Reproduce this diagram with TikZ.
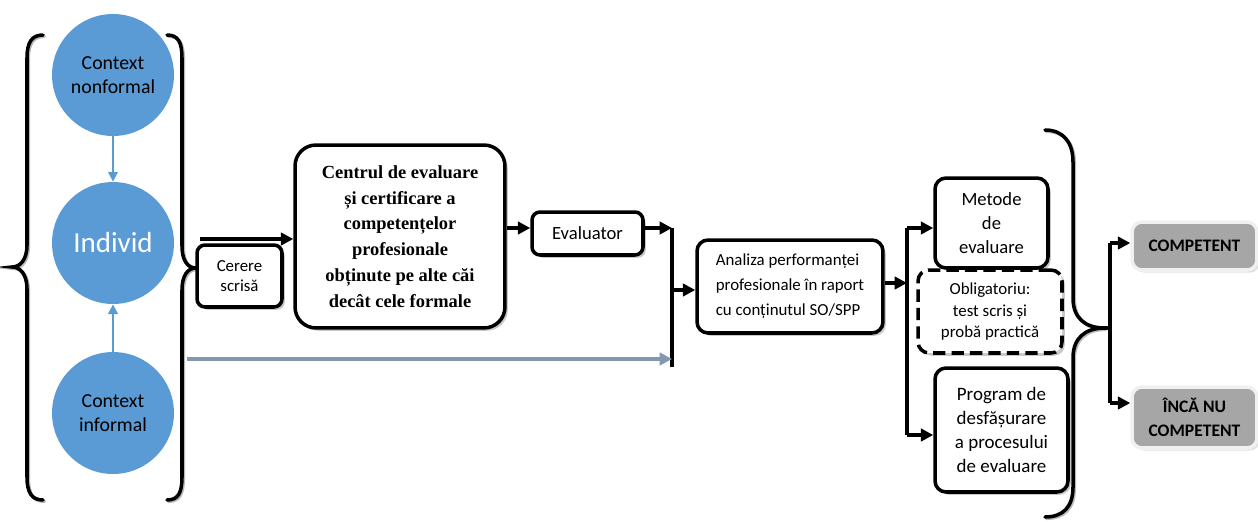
\documentclass[tikz,border=0pt]{standalone}
\usepackage{fontspec}
\setmainfont{Carlito}
\newfontfamily\tnr{Liberation Serif}
\usetikzlibrary{arrows.meta,shadows,calc}
\definecolor{cblue}{HTML}{5B9BD5}
\definecolor{gblue}{HTML}{8497B0}
\definecolor{cgray}{HTML}{A6A6A6}
\begin{document}
\begin{tikzpicture}[x=0.02cm,y=-0.02cm,
 circ/.style={circle,fill=cblue,minimum size=2.44cm,inner sep=0pt,align=center,font=\fontsize{11.3}{13.6}\selectfont},
 box/.style={draw=black,line width=2pt,rounded corners=0.22cm,fill=white,align=center,inner sep=0pt,
   drop shadow={shadow xshift=1.6pt,shadow yshift=-1.6pt,fill=gray!60,opacity=0.7}},
 dbox/.style={box,dash pattern=on 7pt off 3.5pt},
 gbox/.style={draw=gray!12,line width=2pt,rounded corners=0.2cm,fill=cgray,align=center,inner sep=0pt,
   font=\bfseries\fontsize{10}{13.5}\selectfont,
   drop shadow={shadow xshift=1.5pt,shadow yshift=-1.5pt,fill=gray!40,opacity=0.6}},
 arr/.style={line width=2pt,-{Triangle[length=7pt,width=7pt]}},
 bus/.style={line width=2pt},
 barr/.style={line width=0.9pt,cblue,-{Triangle[length=5.5pt,width=5.5pt]}},
 garr/.style={line width=2.4pt,gblue,-{Triangle[length=7pt,width=7pt]}},
 brace/.style={line width=2pt,line cap=round},
 braceshadow/.style={line width=2pt,line cap=round,gray!55}
]
\useasboundingbox (0,0) rectangle (1258,521);

% braces (shadow then black)
\foreach \s/\st in {1.3/braceshadow,0/brace}{
 \begin{scope}[shift={(\s,\s)}]
 \draw[\st] (43,35) .. controls (32,35) and (27,42) .. (27,58) -- (27,245)
   .. controls (27,260) and (20,267) .. (12,267)
   .. controls (20,267) and (27,274) .. (27,289) -- (27,477)
   .. controls (27,493) and (32,500) .. (43,500);
 \draw[\st] (167,35) .. controls (178,35) and (182,42) .. (182,58) -- (182,246)
   .. controls (182,261) and (188,268) .. (196,268)
   .. controls (188,268) and (182,275) .. (182,290) -- (182,477)
   .. controls (182,493) and (178,500) .. (167,500);
 \draw[\st] (1045,130) .. controls (1063,130) and (1073,142) .. (1073,162) -- (1073,298)
   .. controls (1073,318) and (1085,328) .. (1105,328)
   .. controls (1085,328) and (1073,338) .. (1073,358) -- (1073,487)
   .. controls (1073,507) and (1063,517) .. (1045,517);
 \end{scope}}

% circles
\node[circ] (nonf) at (113,75) {Context\\nonformal};
\node[circ,text=white,font=\fontsize{16.5}{19}\selectfont] (ind) at (113,243) {Individ};
\node[circ] (inf) at (113,413) {Context\\informal};
\draw[barr] (nonf.south) -- (ind.north);
\draw[barr] (inf.north) -- (ind.south);

% boxes
\node[box,minimum width=1.7cm,minimum height=1.24cm,rounded corners=0.16cm,font=\fontsize{9.6}{11}\selectfont] (cer) at (239.5,276) {Cerere\\scrisă};
\node[box,minimum width=4.2cm,minimum height=3.66cm,rounded corners=0.42cm,font=\tnr\bfseries\fontsize{10.5}{14.7}\selectfont] (cen) at (400,236.5)
 {Centrul de evaluare\\și certificare a\\competențelor\\profesionale\\obținute pe alte căi\\decât cele formale};
\node[box,minimum width=2.22cm,minimum height=0.86cm,rounded corners=0.16cm,font=\fontsize{10.6}{13}\selectfont] (eva) at (587.5,233.5) {Evaluator};
\node[box,minimum width=3.72cm,minimum height=1.86cm,font=\fontsize{9.6}{14.2}\selectfont,align=left] (ana) at (790,286.5)
 {Analiza performanței\\profesionale în raport\\cu conținutul SO/SPP};
\node[box,minimum width=2.26cm,minimum height=1.8cm,font=\fontsize{10.6}{13.6}\selectfont] (met) at (991.5,223) {Metode\\de\\evaluare};
\node[dbox,minimum width=2.88cm,minimum height=1.66cm,font=\fontsize{9.6}{12}\selectfont] (obl) at (990,311.5) {Obligatoriu:\\test scris și\\probă practică};
\node[box,minimum width=2.66cm,minimum height=2.48cm,font=\fontsize{10.8}{13.6}\selectfont] (pro) at (1001.5,430) {Program de\\desfășurare\\a procesului\\de evaluare};
\node[gbox,minimum width=2.5cm,minimum height=0.96cm] (comp) at (1194.5,246) {COMPETENT};
\node[gbox,minimum width=2.5cm,minimum height=1.22cm] (inca) at (1194.5,417.5) {ÎNCĂ NU\\COMPETENT};

% connectors
\coordinate (c0) at (200,239);
\draw[arr] (c0) -- (c0 -| cen.west);
\draw[arr] (cen.east |- 0,228) -- (eva.west |- 0,228);
\coordinate (j1) at (672,228);
\coordinate (j2) at (672,367);
\draw[arr] (eva.east |- j1) -- (j1);
\draw[bus] (j1) -- (j2);
\coordinate (g0) at (187,359);
\draw[garr] (g0) -- (g0 -| j1);
\draw[arr] (j1 |- 0,290) -- (ana.west |- 0,290);
\coordinate (k1) at (907,228);
\coordinate (k2) at (907,435);
\draw[bus] (k1) -- (k2);
\draw[arr] (ana.east |- 0,283) -- (k1 |- 0,283);
\draw[arr] (k1) -- (k1 -| met.west);
\draw[arr] (k2) -- (k2 -| pro.west);
\coordinate (t0) at (1105,328);
\coordinate (m1) at (1110,243);
\coordinate (m2) at (1110,403);
\draw[bus] (t0) -- (t0 -| m1);
\draw[bus] (m1) -- (m2);
\draw[arr] (m1) -- (m1 -| comp.west);
\draw[arr] (m2) -- (m2 -| inca.west);
\end{tikzpicture}
\end{document}
